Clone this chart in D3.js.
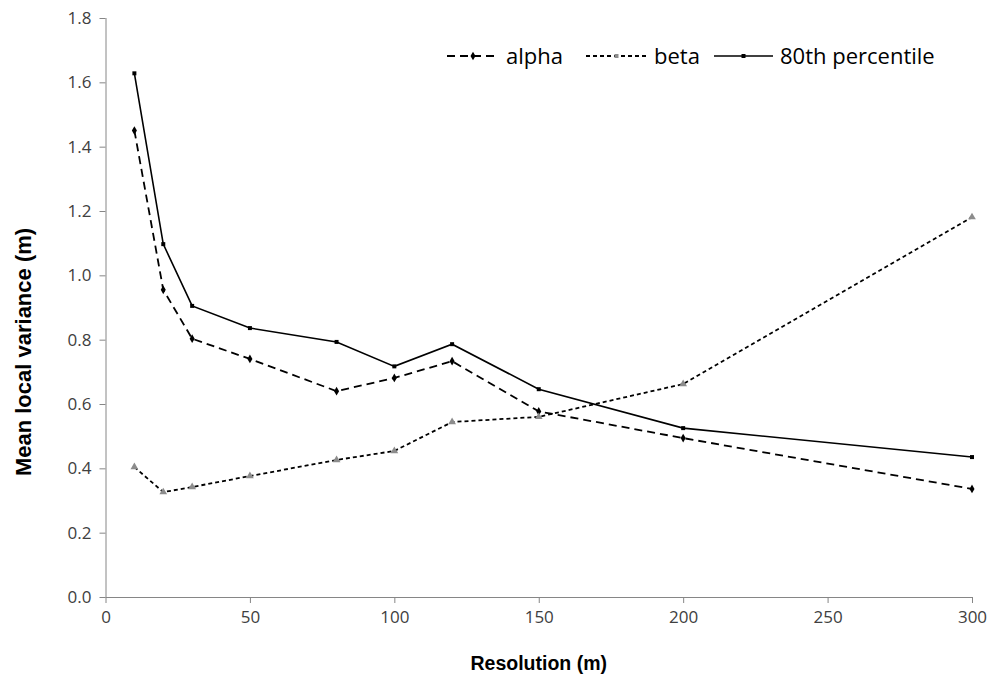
<!DOCTYPE html>
<html>
<head>
<meta charset="utf-8">
<script src="https://cdn.jsdelivr.net/npm/d3@7"></script>
<style>
  body { margin: 0; background: #fff; }
  .tick text { font-family: "Open Sans", sans-serif; font-size: 17px; fill: #404040; }
  .axis-title { font-family: "Liberation Sans", Arial, sans-serif; font-weight: bold; fill: #000; }
  .legend-text { font-family: "Open Sans", sans-serif; font-size: 22px; fill: #000; }
</style>
</head>
<body>
<div id="chart"></div>
<script>
// Data
const resolution = [10, 20, 30, 50, 80, 100, 120, 150, 200, 300];
const alpha = [1.45, 0.955, 0.803, 0.74, 0.64, 0.681, 0.733, 0.577, 0.494, 0.336];
const beta = [0.404, 0.326, 0.342, 0.376, 0.426, 0.454, 0.544, 0.56, 0.662, 1.181];
const pct80 = [1.628, 1.097, 0.905, 0.836, 0.793, 0.717, 0.786, 0.646, 0.525, 0.435];
const xTicks = [0, 50, 100, 150, 200, 250, 300];
const yTicks = [0, 0.2, 0.4, 0.6, 0.8, 1.0, 1.2, 1.4, 1.6, 1.8];
const seriesNames = ["alpha", "beta", "80th percentile"];

const W = 989, H = 679;
const margin = { top: 18, right: 17, bottom: 82, left: 105.5 };
const width = W - margin.left - margin.right;
const height = H - margin.top - margin.bottom;

const svg = d3.select("#chart").append("svg")
    .attr("width", W).attr("height", H);
const g = svg.append("g")
    .attr("transform", `translate(${margin.left},${margin.top})`);

const x = d3.scaleLinear().domain([0, 300]).range([0, width]);
const y = d3.scaleLinear().domain([0, 1.8]).range([height, 0]);

// Axes
const axisColor = "#868686";
const xAxis = g.append("g")
    .attr("transform", `translate(0,${height})`)
    .call(d3.axisBottom(x).tickValues(xTicks).tickSize(6).tickPadding(8).tickFormat(d3.format("d")));
const yAxis = g.append("g")
    .call(d3.axisLeft(y).tickValues(yTicks).tickSize(6).tickPadding(8).tickFormat(d3.format(".1f")));
[xAxis, yAxis].forEach(a => {
    a.selectAll("path, line").attr("stroke", axisColor).attr("stroke-width", 1);
});
xAxis.select(".domain").attr("d", `M0,0.5H${width}`);
yAxis.select(".domain").attr("d", `M0.5,${height}V0`);

// Axis titles
svg.append("text")
    .attr("class", "axis-title")
    .style("font-size", "19.5px")
    .attr("x", margin.left + width / 2)
    .attr("y", 670)
    .attr("text-anchor", "middle")
    .text("Resolution (m)");
svg.append("text")
    .attr("class", "axis-title")
    .style("font-size", "22px")
    .attr("transform", "translate(31,352) rotate(-90)")
    .attr("text-anchor", "middle")
    .text("Mean local variance (m)");

// Series
const series = [
    { name: seriesNames[0], values: alpha, color: "#000", dash: "8,5", width: 1.8, marker: "diamond", mcolor: "#000" },
    { name: seriesNames[1], values: beta, color: "#000", dash: "4,3", width: 1.8, marker: "triangle", mcolor: "#8c8c8c" },
    { name: seriesNames[2], values: pct80, color: "#000", dash: null, width: 1.6, marker: "square", mcolor: "#000" }
];
const line = d3.line().x(d => x(d[0])).y(d => y(d[1]));
const symbolOf = {
    diamond: d3.symbol().type(d3.symbolDiamond).size(22),
    triangle: d3.symbol().type(d3.symbolTriangle).size(26),
    square: d3.symbol().type(d3.symbolSquare).size(16)
};

series.forEach(s => {
    const pts = resolution.map((r, i) => [r, s.values[i]]);
    g.append("path")
        .datum(pts)
        .attr("fill", "none")
        .attr("stroke", s.color)
        .attr("stroke-width", s.width)
        .attr("stroke-dasharray", s.dash)
        .attr("d", line);
    g.selectAll(null)
        .data(pts)
        .enter()
        .append("path")
        .attr("transform", d => `translate(${x(d[0])},${y(d[1])})`)
        .attr("d", symbolOf[s.marker]())
        .attr("fill", s.mcolor);
});

// Legend
const legendX = [447, 586, 714];
const legendY = 56;
const legendLen = [52, 61, 59];
const legendMarker = ["diamond", "square", "square"];
series.forEach((s, i) => {
    const lg = svg.append("g").attr("transform", `translate(${legendX[i]},${legendY})`);
    lg.append("line")
        .attr("x1", 0).attr("x2", legendLen[i])
        .attr("stroke", s.color)
        .attr("stroke-width", s.width)
        .attr("stroke-dasharray", s.dash);
    lg.append("path")
        .attr("transform", `translate(${legendLen[i] / 2},0)`)
        .attr("d", symbolOf[legendMarker[i]]())
        .attr("fill", s.mcolor);
    lg.append("text")
        .attr("class", "legend-text")
        .attr("x", legendLen[i] + 7)
        .attr("dy", "0.35em")
        .text(s.name);
});
</script>
</body>
</html>
